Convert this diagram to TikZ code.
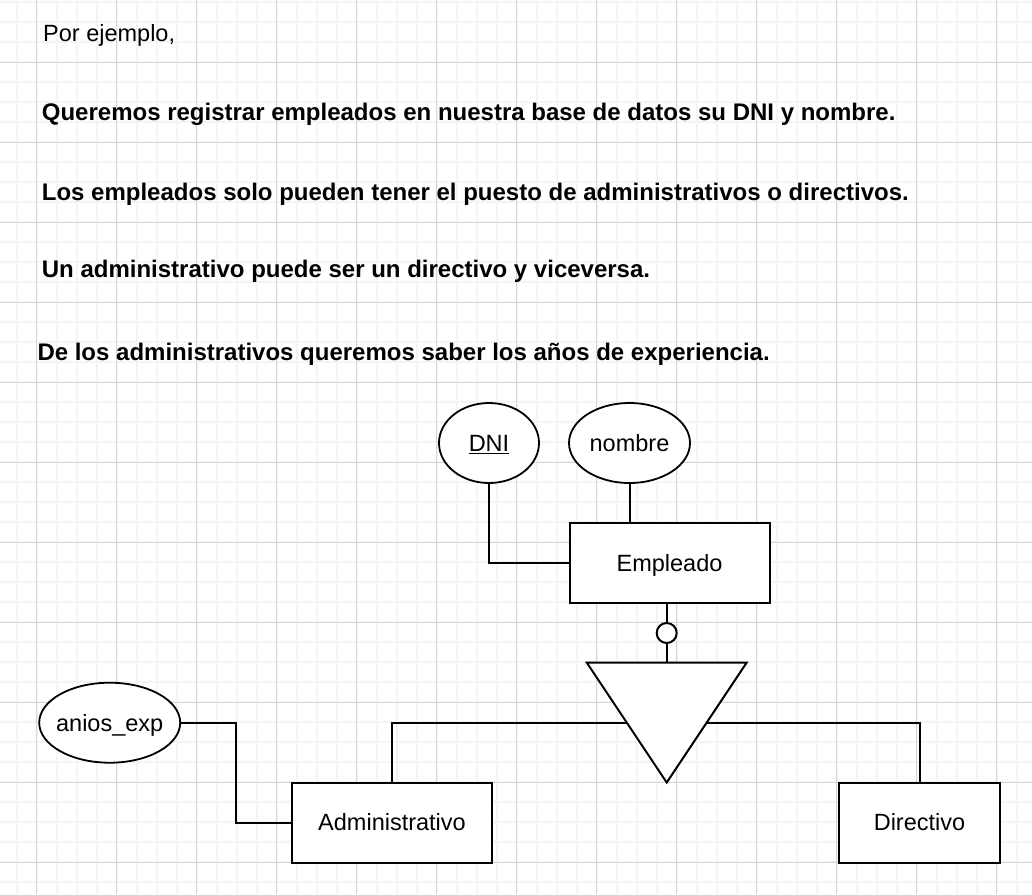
\documentclass[tikz,border=0pt]{standalone}
\usepackage{fontspec}
\setmainfont{Liberation Sans}
\usetikzlibrary{positioning,shapes.geometric}
\definecolor{rejillafina}{HTML}{F4F4F4}
\definecolor{rejilla}{HTML}{D6D6D6}

\begin{document}
\begin{tikzpicture}[x=1pt,y=-1pt,
    every node/.style={font=\fontsize{23.5}{28}\selectfont},
    texto/.style={anchor=base west, inner sep=0pt},
    negrita/.style={texto, font=\fontsize{24}{28}\selectfont\bfseries},
    entidad/.style={draw, line width=2pt, fill=white, minimum width=200pt, minimum height=80pt, inner sep=0pt, text height=16.8pt, text depth=0pt},
    atributo/.style={draw, ellipse, line width=1.8pt, fill=white, minimum height=80pt, inner sep=0pt, text height=16.8pt, text depth=0pt},
    linea/.style={line width=2pt}]

        % Fondo con rejilla
        \useasboundingbox (0,0) rectangle (1032,894);
        \fill[white] (0,0) rectangle (1032,894);
        \foreach \i in {0,...,52}
            \draw[rejillafina, line width=2pt] ({\i*20-3.3},0) -- ({\i*20-3.3},894);
        \foreach \i in {0,...,44}
            \draw[rejillafina, line width=2pt] (0,{\i*20+2}) -- (1032,{\i*20+2});
        \foreach \i in {0,...,12}
            \draw[rejilla, line width=1pt] ({\i*80+36.7},0) -- ({\i*80+36.7},894);
        \foreach \i in {0,...,10}
            \draw[rejilla, line width=1pt] (0,{\i*80+62}) -- (1032,{\i*80+62});

        % Enunciado
        \node[texto] (intro) at (43,41) {Por ejemplo,};
        \node[negrita] (req1) at (41.7,120.7) {Queremos registrar empleados en nuestra base de datos su DNI y nombre.};
        \node[negrita] (req2) at (41.7,200.7) {Los empleados solo pueden tener el puesto de administrativos o directivos.};
        \node[negrita] (req3) at (41.7,277.3) {Un administrativo puede ser un directivo y viceversa.};
        \node[negrita] (req4) at (37.3,360) {De los administrativos queremos saber los años de experiencia.};

        % Entidades
        \node[entidad] (empleado) at (669.5,563) {Empleado};
        \node[entidad] (admin) at (392,822.5) {Administrativo};
        \node[entidad, minimum width=161pt] (directivo) at (919.5,822.5) {Directivo};

        % Atributos
        \node[atributo, minimum width=100pt] (dni) at (489,443) {\underline{DNI}};
        \node[atributo, minimum width=121pt] (nombre) at (629.5,443) {nombre};
        \node[atributo, minimum width=141pt, inner xsep=-5pt] (anios) at (109.7,722.7) {anios\_exp};

        % Jerarquia
        \node[circle, draw, linea, fill=white, minimum size=20pt, inner sep=0pt] (solape) at (666.7,633) {};
        \coordinate (isa) at (666.7,722.5);
        \coordinate (codo) at (236,722.7);

        % Lineas
        \draw[linea] (dni.south) |- (empleado.west);
        \draw[linea] (nombre.south) -- (nombre.south |- empleado.north);
        \draw[linea] (anios.east) -- (codo) |- (admin.west);
        \draw[linea] (empleado.south -| solape) -- (solape.north);
        \draw[linea] (solape.south) -- ++(0,19.3);
        \draw[linea] (admin.north) |- (isa) -| (directivo.north);
        \filldraw[linea, fill=white, shift={(isa)}] (-80,-60) -- (80,-60) -- (0,60) -- cycle;
    \end{tikzpicture}
\end{document}
